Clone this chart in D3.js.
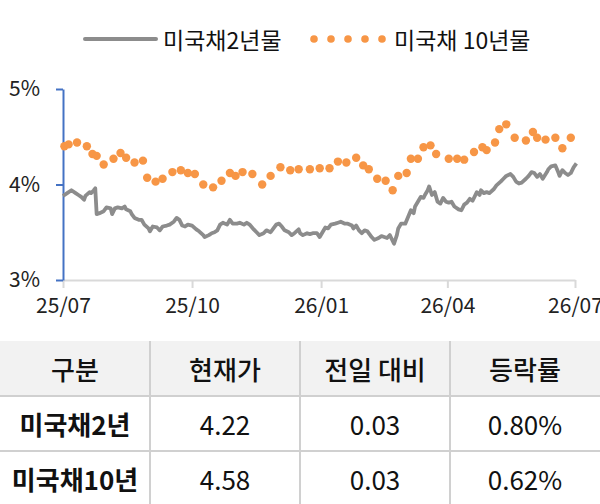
<!DOCTYPE html>
<html>
<head>
<meta charset="utf-8">
<script src="https://cdn.jsdelivr.net/npm/d3@7"></script>
<style>
  body { margin: 0; background: #fff; }
  svg { display: block; font-family: "Noto Sans CJK KR", "Noto Sans", sans-serif; }
</style>
</head>
<body>
<div id="chart"></div>
<script>
'use strict';

// 미국채 2년물 (일별)
var dates2y = [
  '2025-07-01','2025-07-04','2025-07-07','2025-07-10','2025-07-12','2025-07-14','2025-07-16','2025-07-17',
  '2025-07-20','2025-07-21','2025-07-23','2025-07-24','2025-07-25','2025-07-27','2025-07-30','2025-08-01',
  '2025-08-04','2025-08-05','2025-08-07','2025-08-09','2025-08-12','2025-08-14','2025-08-15','2025-08-18',
  '2025-08-19','2025-08-21','2025-08-24','2025-08-26','2025-08-28','2025-08-31','2025-09-01','2025-09-03',
  '2025-09-06','2025-09-08','2025-09-10','2025-09-13','2025-09-15','2025-09-18','2025-09-20','2025-09-22',
  '2025-09-24','2025-09-26','2025-09-28','2025-10-01','2025-10-04','2025-10-06','2025-10-09','2025-10-10',
  '2025-10-13','2025-10-15','2025-10-17','2025-10-19','2025-10-21','2025-10-23','2025-10-26','2025-10-28',
  '2025-10-30','2025-11-02','2025-11-04','2025-11-07','2025-11-09','2025-11-11','2025-11-14','2025-11-16',
  '2025-11-18','2025-11-21','2025-11-23','2025-11-26','2025-11-28','2025-11-30','2025-12-02','2025-12-04',
  '2025-12-06','2025-12-09','2025-12-11','2025-12-13','2025-12-16','2025-12-17','2025-12-19','2025-12-22',
  '2025-12-24','2025-12-26','2025-12-29','2025-12-31','2026-01-02','2026-01-04','2026-01-06','2026-01-08',
  '2026-01-11','2026-01-13','2026-01-15','2026-01-18','2026-01-20','2026-01-23','2026-01-24','2026-01-26',
  '2026-01-28','2026-01-30','2026-02-01','2026-02-03','2026-02-05','2026-02-06','2026-02-08','2026-02-11',
  '2026-02-13','2026-02-15','2026-02-17','2026-02-19','2026-02-20','2026-02-22','2026-02-24','2026-02-25',
  '2026-02-27','2026-03-02','2026-03-04','2026-03-06','2026-03-08','2026-03-09','2026-03-11','2026-03-13',
  '2026-03-15','2026-03-16','2026-03-18','2026-03-19','2026-03-21','2026-03-23','2026-03-25','2026-03-27',
  '2026-03-29','2026-03-31','2026-04-02','2026-04-04','2026-04-06','2026-04-09','2026-04-11','2026-04-13',
  '2026-04-15','2026-04-17','2026-04-19','2026-04-22','2026-04-24','2026-04-25','2026-04-27','2026-04-29',
  '2026-05-01','2026-05-04','2026-05-06','2026-05-09','2026-05-11','2026-05-13','2026-05-16','2026-05-18',
  '2026-05-20','2026-05-22','2026-05-24','2026-05-27','2026-05-29','2026-05-31','2026-06-02','2026-06-04',
  '2026-06-06','2026-06-08','2026-06-11','2026-06-12','2026-06-14','2026-06-17','2026-06-19','2026-06-20',
  '2026-06-22','2026-06-24','2026-06-26','2026-06-28','2026-06-30','2026-07-02'
];
var values2y = [
  3.88,3.91,3.94,3.91,3.89,3.87,3.84,3.88,
  3.92,3.91,3.94,3.96,3.69,3.70,3.72,3.76,
  3.75,3.69,3.75,3.76,3.75,3.77,3.74,3.72,
  3.69,3.65,3.63,3.63,3.58,3.54,3.51,3.56,
  3.55,3.52,3.56,3.57,3.58,3.61,3.65,3.63,
  3.57,3.56,3.58,3.57,3.53,3.51,3.47,3.45,
  3.47,3.49,3.50,3.52,3.58,3.60,3.58,3.63,
  3.59,3.59,3.60,3.58,3.60,3.58,3.53,3.50,
  3.47,3.49,3.52,3.50,3.54,3.58,3.59,3.56,
  3.52,3.50,3.47,3.49,3.53,3.49,3.47,3.49,
  3.48,3.49,3.49,3.45,3.50,3.55,3.54,3.58,
  3.59,3.60,3.61,3.59,3.59,3.57,3.54,3.57,
  3.52,3.49,3.52,3.51,3.47,3.45,3.42,3.44,
  3.46,3.45,3.44,3.47,3.44,3.38,3.47,3.54,
  3.59,3.59,3.66,3.73,3.70,3.77,3.82,3.87,
  3.86,3.89,3.94,3.98,3.89,3.92,3.82,3.80,
  3.86,3.82,3.81,3.82,3.77,3.74,3.73,3.79,
  3.81,3.85,3.83,3.92,3.89,3.94,3.91,3.92,
  3.91,3.95,3.99,4.03,4.06,4.09,4.11,4.08,
  4.03,4.01,4.02,4.06,4.09,4.13,4.12,4.08,
  4.11,4.06,4.13,4.16,4.19,4.20,4.13,4.09,
  4.15,4.12,4.10,4.12,4.18,4.22
];

// 미국채 10년물 (주별)
var dates10y = [
  '2025-07-02','2025-07-05','2025-07-11','2025-07-18','2025-07-22','2025-07-25','2025-07-30','2025-08-06',
  '2025-08-11','2025-08-15','2025-08-21','2025-08-27','2025-08-30','2025-09-05','2025-09-10','2025-09-17',
  '2025-09-23','2025-09-28','2025-10-03','2025-10-09','2025-10-16','2025-10-22','2025-10-28','2025-11-01',
  '2025-11-06','2025-11-13','2025-11-20','2025-11-26','2025-12-03','2025-12-10','2025-12-16','2025-12-24',
  '2025-12-31','2026-01-07','2026-01-13','2026-01-19','2026-01-26','2026-01-31','2026-02-04','2026-02-10',
  '2026-02-16','2026-02-21','2026-02-25','2026-03-03','2026-03-06','2026-03-11','2026-03-15','2026-03-20',
  '2026-03-24','2026-04-02','2026-04-08','2026-04-13','2026-04-20','2026-04-26','2026-04-29','2026-05-05',
  '2026-05-08','2026-05-13','2026-05-19','2026-05-27','2026-06-01','2026-06-04','2026-06-10','2026-06-17',
  '2026-06-22','2026-06-28'
];
var values10y = [
  4.40,4.42,4.44,4.40,4.32,4.30,4.21,4.27,
  4.33,4.28,4.23,4.25,4.07,4.03,4.06,4.13,
  4.15,4.12,4.11,4.00,3.97,4.04,4.12,4.09,
  4.13,4.11,4.00,4.09,4.18,4.15,4.16,4.16,
  4.17,4.17,4.24,4.23,4.28,4.20,4.16,4.06,
  4.04,3.94,4.09,4.12,4.27,4.27,4.39,4.41,
  4.32,4.27,4.27,4.26,4.34,4.39,4.36,4.44,
  4.58,4.63,4.49,4.46,4.55,4.49,4.47,4.49,
  4.38,4.49
];

var xTickDates = ['2025-07-01','2025-10-01','2026-01-01','2026-04-01','2026-07-01'];
var xTickLabels = ['25/07','25/10','26/01','26/04','26/07'];
var yTickValues = [3, 4, 5];
var seriesNames = ['미국채2년물', '미국채 10년물'];

// 표
var tableHeader = ['구분', '현재가', '전일 대비', '등락률'];
var tableNames = ['미국채2년', '미국채10년'];
var tablePrice = ['4.22', '4.58'];
var tableChange = ['0.03', '0.03'];
var tableRate = ['0.80%', '0.62%'];

var parse = d3.timeParse('%Y-%m-%d');
var width = 600, height = 504;
var grayColor = '#8c8c8c', orangeColor = '#f79646';

var svg = d3.select('#chart').append('svg')
  .attr('width', width)
  .attr('height', height);

svg.append('rect').attr('width', width).attr('height', height).attr('fill', '#fff');

var x = d3.scaleTime()
  .domain([parse(xTickDates[0]), parse(xTickDates[xTickDates.length - 1])])
  .range([63, 575]);
var y = d3.scaleLinear().domain([3, 5]).range([280, 89]);

// legend
var legend = svg.append('g');
legend.append('line')
  .attr('x1', 85).attr('x2', 156).attr('y1', 39).attr('y2', 39)
  .attr('stroke', grayColor).attr('stroke-width', 4).attr('stroke-linecap', 'round');
legend.append('text')
  .attr('x', 163).attr('y', 39).attr('dominant-baseline', 'central')
  .attr('font-size', 23).attr('fill', '#111')
  .text(seriesNames[0]);
legend.selectAll('circle.leg')
  .data(d3.range(5))
  .enter().append('circle')
  .attr('class', 'leg')
  .attr('cx', function(d) { return 314 + d * 17; })
  .attr('cy', 39).attr('r', 3.8)
  .attr('fill', orangeColor);
legend.append('text')
  .attr('x', 394).attr('y', 39).attr('dominant-baseline', 'central')
  .attr('font-size', 23).attr('fill', '#111')
  .text(seriesNames[1]);

// x axis
var xAxis = svg.append('g')
  .attr('transform', 'translate(0,280)')
  .call(d3.axisBottom(x)
    .tickValues(xTickDates.map(parse))
    .tickFormat(function(d, i) { return xTickLabels[i]; })
    .tickSize(8).tickSizeOuter(0).tickPadding(10));
xAxis.select('.domain').attr('stroke', '#d9d9d9').attr('stroke-width', 2);
xAxis.selectAll('.tick line').attr('stroke', '#d9d9d9').attr('stroke-width', 2);
xAxis.selectAll('.tick text')
  .attr('font-size', 21).attr('fill', '#222')
  .attr('font-family', '"Noto Sans CJK KR", sans-serif');

// y axis
var yAxis = svg.append('g')
  .attr('transform', 'translate(63,0)')
  .call(d3.axisLeft(y)
    .tickValues(yTickValues)
    .tickFormat(function(d) { return d + '%'; })
    .tickSize(7).tickSizeOuter(0).tickPadding(16));
yAxis.select('.domain').attr('stroke', '#4472c4').attr('stroke-width', 2);
yAxis.selectAll('.tick line').attr('stroke', '#4472c4').attr('stroke-width', 2);
yAxis.selectAll('.tick text')
  .attr('font-size', 21).attr('fill', '#222')
  .attr('font-family', '"Noto Sans CJK KR", sans-serif');

// 2y line
var line = d3.line()
  .x(function(d, i) { return x(parse(dates2y[i])); })
  .y(function(d) { return y(d); });
svg.append('path')
  .datum(values2y)
  .attr('d', line)
  .attr('fill', 'none')
  .attr('stroke', grayColor)
  .attr('stroke-width', 3.8)
  .attr('stroke-linejoin', 'round');

// 10y dots
svg.selectAll('circle.dot')
  .data(values10y)
  .enter().append('circle')
  .attr('class', 'dot')
  .attr('cx', function(d, i) { return x(parse(dates10y[i])); })
  .attr('cy', function(d) { return y(d); })
  .attr('r', 4.2)
  .attr('fill', orangeColor);

// table
var col = d3.scaleBand().domain(d3.range(4)).range([0, width]);
var rowTops = [341, 396, 451];
var rowH = 55;
var table = svg.append('g');
table.append('rect')
  .attr('x', 0).attr('y', rowTops[0]).attr('width', width).attr('height', rowTops[1] - rowTops[0])
  .attr('fill', '#f2f2f2');
table.selectAll('line.h')
  .data(rowTops.slice(1))
  .enter().append('line')
  .attr('class', 'h')
  .attr('x1', 0).attr('x2', width)
  .attr('y1', function(d) { return d; }).attr('y2', function(d) { return d; })
  .attr('stroke', '#d0d0d0').attr('stroke-width', 2);
table.selectAll('line.v')
  .data(d3.range(1, 4))
  .enter().append('line')
  .attr('class', 'v')
  .attr('x1', function(d) { return col(d); }).attr('x2', function(d) { return col(d); })
  .attr('y1', rowTops[0]).attr('y2', height)
  .attr('stroke', '#d0d0d0').attr('stroke-width', 2);

table.selectAll('text.head')
  .data(tableHeader)
  .enter().append('text')
  .attr('class', 'head')
  .attr('x', function(d, i) { return col(i) + col.bandwidth() / 2; })
  .attr('y', rowTops[0] + rowH / 2)
  .attr('text-anchor', 'middle').attr('dominant-baseline', 'central')
  .attr('font-size', 26).attr('font-weight', 500).attr('fill', '#111')
  .text(function(d) { return d; });

tableNames.forEach(function(name, r) {
  var cells = [name, tablePrice[r], tableChange[r], tableRate[r]];
  table.selectAll('text.r' + r)
    .data(cells)
    .enter().append('text')
    .attr('class', 'r' + r)
    .attr('x', function(d, i) { return col(i) + col.bandwidth() / 2; })
    .attr('y', rowTops[r + 1] + rowH / 2)
    .attr('text-anchor', 'middle').attr('dominant-baseline', 'central')
    .attr('font-size', function(d, i) { return i === 0 ? 26 : 26; })
    .attr('font-weight', function(d, i) { return i === 0 ? 700 : 400; })
    .attr('fill', '#111')
    .text(function(d) { return d; });
});
</script>
</body>
</html>
